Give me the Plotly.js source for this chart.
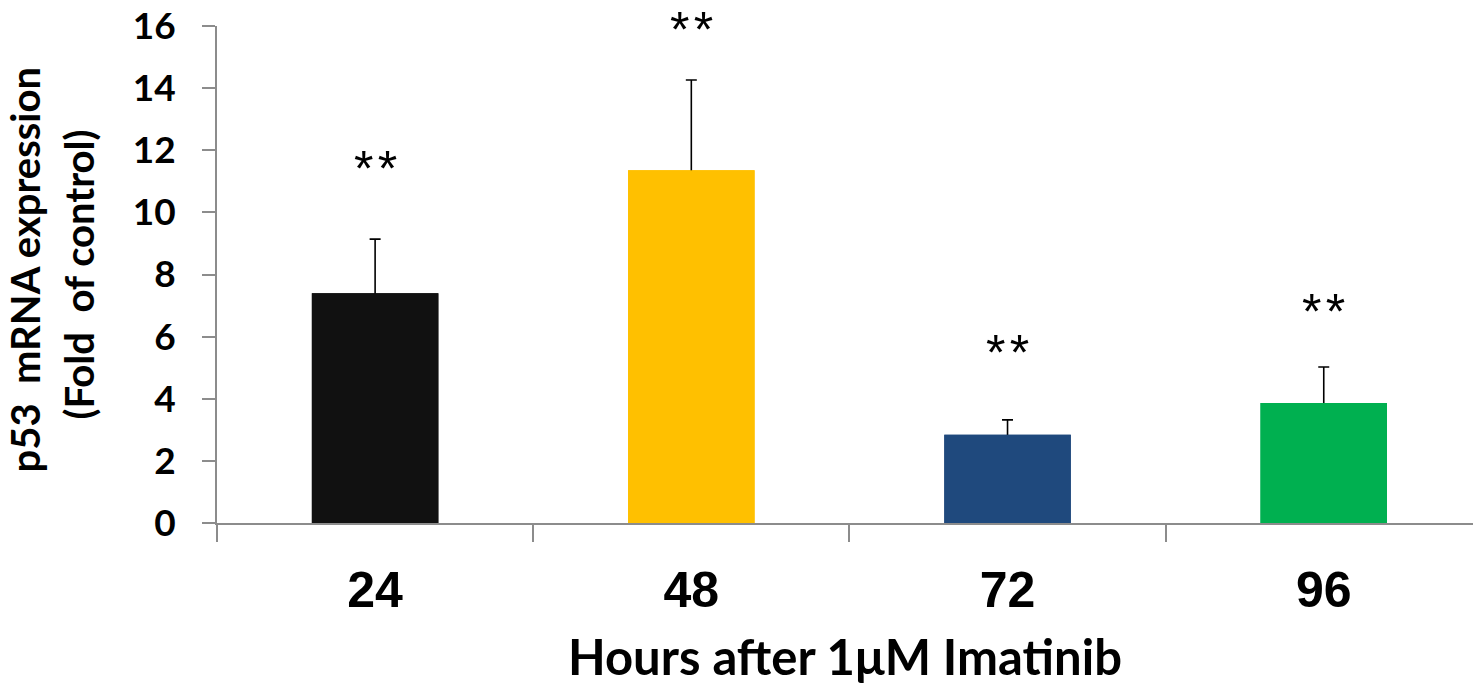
<!DOCTYPE html>
<html><head><meta charset="utf-8">
<script src="https://cdn.plot.ly/plotly-3.0.1.min.js"></script>
<style>html,body{margin:0;padding:0;background:#fff}</style>
</head><body>
<div id="chart" style="width:1473px;height:693px"></div>
<script>
const hours = ['24', '48', '72', '96'];
const expression = [7.40, 11.36, 2.84, 3.86];
const sdError = [1.74, 2.90, 0.48, 1.16];
const barColors = ['#111111', '#FFC000', '#1F497D', '#00B050'];
const significance = ['*\u200a*', '*\u200a*', '*\u200a*', '*\u200a*'];
const sigLevel = [11.6, 16.05, 5.66, 6.98];
const yTicks = [0, 2, 4, 6, 8, 10, 12, 14, 16];
const yTitleLines = ['p53\u00a0\u00a0mRNA expression', '(Fold\u00a0\u00a0of control)'];
const xTitle = 'Hours after 1\u03bcM Imatinib';

const yMax = 16;
const axisGrey = '#8c8c8c';

const traces = [
  {
    type: 'bar', x: hours, y: expression, width: 0.4,
    marker: {color: barColors, line: {width: 0}},
    error_y: {type: 'data', symmetric: false, array: sdError, arrayminus: expression,
              color: '#000', thickness: 1.6, width: 5.5},
    hoverinfo: 'skip', showlegend: false
  },
  {
    type: 'bar', x: hours, y: expression, width: 0.4,
    marker: {color: barColors, line: {width: 0}},
    showlegend: false
  }
];

// significance marks: positioned in paper units derived from the y scale (0..yMax)
const starSize = 50;
const annotations = significance.map((s, i) => ({
  x: i, y: sigLevel[i] / yMax, xref: 'x', yref: 'paper', text: s, showarrow: false,
  xanchor: 'center', yanchor: 'middle', yshift: -0.12 * starSize, borderpad: 0,
  font: {family: 'Liberation Sans', size: starSize, color: '#000'}
}));
annotations.push(
  {xref: 'paper', yref: 'paper', x: 0, y: 0.51, xshift: -192, text: yTitleLines[0],
   textangle: -90, showarrow: false, xanchor: 'center', yanchor: 'middle',
   font: {family: 'Lato', size: 40, color: '#000', weight: 'bold'}},
  {xref: 'paper', yref: 'paper', x: 0, y: 0.50, xshift: -139, text: yTitleLines[1],
   textangle: -90, showarrow: false, xanchor: 'center', yanchor: 'middle',
   font: {family: 'Lato', size: 40, color: '#000', weight: 'bold'}}
);

const layout = {
  width: 1473, height: 693,
  margin: {l: 217, r: 0, t: 26, b: 170, pad: 0},
  paper_bgcolor: '#fff', plot_bgcolor: '#fff',
  barmode: 'overlay',
  showlegend: false,
  xaxis: {
    type: 'category', range: [-0.5, 3.472], tickson: 'boundaries',
    ticks: 'outside', ticklen: 17, tickwidth: 2, tickcolor: axisGrey,
    showline: true, linecolor: axisGrey, linewidth: 2, showgrid: false, zeroline: false,
    tickfont: {family: 'Liberation Sans', size: 50, color: '#000', weight: 'bold'},
    ticklabelstandoff: 22,
    title: {text: xTitle, font: {family: 'Lato', size: 49, color: '#000', weight: 'bold'}, standoff: 24},
    automargin: false
  },
  yaxis: {
    range: [0, yMax], tickvals: yTicks, ticktext: yTicks.map(String),
    ticks: 'outside', ticklen: 13, tickwidth: 2, tickcolor: axisGrey,
    showline: true, linecolor: axisGrey, linewidth: 2, showgrid: false, zeroline: false,
    tickfont: {family: 'Lato', size: 37, color: '#000', weight: 'bold'},
    ticklabelstandoff: 19,
    automargin: false
  },
  annotations: annotations
};

Plotly.newPlot('chart', traces, layout, {displayModeBar: false, staticPlot: true});
</script>
</body></html>
